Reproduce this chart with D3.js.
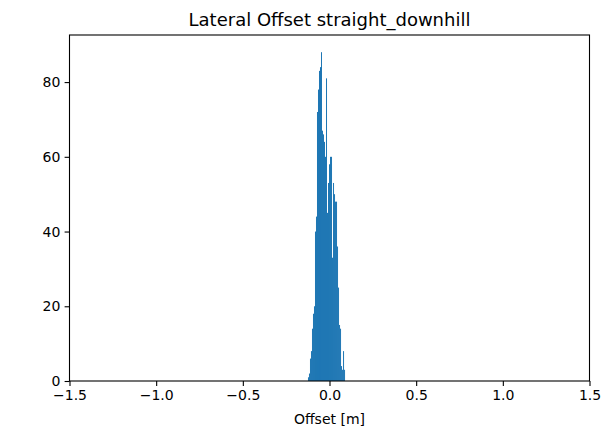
<!DOCTYPE html>
<html lang="en">
<head>
  <meta charset="UTF-8">
  <title>Lateral Offset straight_downhill</title>
  <script src="https://d3js.org/d3.v7.min.js"></script>
  <style>
  body { margin: 0; background: #fff; }
  text { font-family: "DejaVu Sans", sans-serif; fill: #000; }
  </style>
</head>
<body>
  <div id="chart"></div>
  <script>

  // histogram bins (offset in metres)
  const binStart = -0.1242;
  const binWidth = 0.00578;
  const counts = [1, 2, 6, 8, 14, 18, 20, 40, 44, 72, 78, 83, 84, 88, 67, 66,
                  64, 60, 81, 45, 53, 58, 60, 60, 33, 53, 50, 48, 48, 36, 25,
                  15, 14, 4, 3, 8, 3];

  const xTicks = [-1.5, -1.0, -0.5, 0.0, 0.5, 1.0, 1.5];
  const yTicks = [0, 20, 40, 60, 80];
  const xDomain = [-1.5, 1.5];
  const yMax = 92.6;

  const titleText = "Lateral Offset straight_downhill";
  const xLabelText = "Offset [m]";

  const w = 610, h = 431;
  const margin = {top: 35, right: 20.5, bottom: 50, left: 69.5};
  const gw = w - margin.left - margin.right;
  const gh = h - margin.top - margin.bottom;

  const bins = counts.map((c, i) => ({
    x0: binStart + i * binWidth,
    x1: binStart + (i + 1) * binWidth,
    count: c
  }));

  const svg = d3.select("#chart").append("svg")
    .attr("width", w)
    .attr("height", h);

  const graph = svg.append("g")
    .attr("transform", `translate(${margin.left},${margin.top})`);

  const x = d3.scaleLinear().domain(xDomain).range([0, gw]);
  const y = d3.scaleLinear().domain([0, yMax]).range([gh, 0]);

  // bars
  graph.selectAll("rect")
    .data(bins)
    .enter()
    .append("rect")
      .attr("x", d => x(d.x0))
      .attr("width", d => x(d.x1) - x(d.x0))
      .attr("y", d => y(d.count))
      .attr("height", d => gh - y(d.count))
      .attr("fill", "#1f77b4");

  const fmtX = d => d3.format(".1f")(d).replace("-", "\u2212");

  const xAxis = d3.axisBottom(x)
    .tickValues(xTicks)
    .tickFormat(fmtX)
    .tickSize(4.9)
    .tickPadding(4.2)
    .tickSizeOuter(0);

  const yAxis = d3.axisLeft(y)
    .tickValues(yTicks)
    .tickSize(4.9)
    .tickPadding(4.2)
    .tickSizeOuter(0);

  const xAxisGroup = graph.append("g")
    .attr("transform", `translate(0, ${gh})`)
    .call(xAxis);

  const yAxisGroup = graph.append("g").call(yAxis);

  [xAxisGroup, yAxisGroup].forEach(g => {
    g.select(".domain").remove();
    g.selectAll("line").attr("stroke", "#000").attr("stroke-width", 1.1);
    g.selectAll("text").attr("font-size", "14px").attr("fill", "#000");
  });

  // frame
  graph.append("rect")
    .attr("width", gw)
    .attr("height", gh)
    .attr("fill", "none")
    .attr("stroke", "#000")
    .attr("stroke-width", 1.1);

  svg.append("text")
    .attr("x", margin.left + gw / 2)
    .attr("y", 26)
    .attr("text-anchor", "middle")
    .attr("font-size", "18px")
    .text(titleText);

  svg.append("text")
    .attr("x", margin.left + gw / 2)
    .attr("y", 424)
    .attr("text-anchor", "middle")
    .attr("font-size", "14px")
    .text(xLabelText);

  </script>
</body>
</html>
